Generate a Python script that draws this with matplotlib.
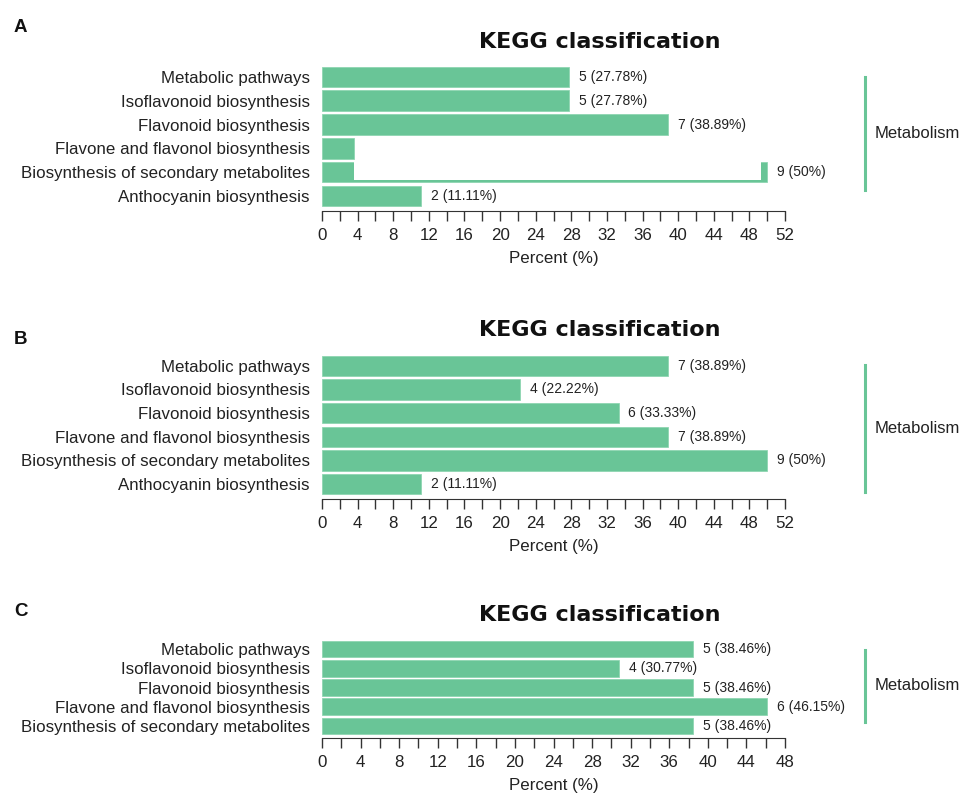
import numpy as np
import matplotlib
matplotlib.use("Agg")
from matplotlib import pyplot as plt
from matplotlib.lines import Line2D

plt.rcParams['font.family'] = ['Liberation Sans', 'DejaVu Sans']

GREEN = "#69c597"
TEXT = "#222222"
W, H = 963, 797

# panel A
cats_a = ["Metabolic pathways", "Isoflavonoid biosynthesis", "Flavonoid biosynthesis",
          "Flavone and flavonol biosynthesis", "Biosynthesis of secondary metabolites",
          "Anthocyanin biosynthesis"]
pct_a = [27.78, 27.78, 38.89, 3.6, 50, 11.11]
lbl_a = ["5 (27.78%)", "5 (27.78%)", "7 (38.89%)", "", "9 (50%)", "2 (11.11%)"]

# panel B
cats_b = cats_a
pct_b = [38.89, 22.22, 33.33, 38.89, 50, 11.11]
lbl_b = ["7 (38.89%)", "4 (22.22%)", "6 (33.33%)", "7 (38.89%)", "9 (50%)", "2 (11.11%)"]

# panel C
cats_c = cats_a[:5]
pct_c = [38.46, 30.77, 38.46, 46.15, 38.46]
lbl_c = ["5 (38.46%)", "4 (30.77%)", "5 (38.46%)", "6 (46.15%)", "5 (38.46%)"]

fig = plt.figure(figsize=(W / 100, H / 100), dpi=100)


def px_axes(left, top, right, bottom):
    return fig.add_axes([left / W, 1 - bottom / H, (right - left) / W, (bottom - top) / H])


def draw_panel(letter, cats, pct, labels, xmax, top, bottom, title_y, line_top, line_bot, letter_y,
               glitch=None):
    n = len(cats)
    ax = px_axes(322, top, 785, bottom)
    y = np.arange(n)[::-1]
    ax.barh(y, pct, height=0.86, color=GREEN, edgecolor="#8fd6b2", linewidth=0.6)
    if glitch is not None:
        # rendering artefact on one bar: only outline strips remain
        gi, gl, gr = glitch
        ax.barh(y[gi] + 0.06, gr - gl, left=gl, height=0.76, color="white", linewidth=0)
    for yi, p, s in zip(y, pct, labels):
        if s:
            ax.annotate(s, (p, yi), xytext=(7, 0), textcoords="offset points",
                        va="center", ha="left", fontsize=10, color=TEXT)
    ax.set_ylim(-0.63, n - 0.5)
    ax.set_xlim(0, xmax)
    ax.set_yticks(y)
    ax.set_yticklabels(cats, fontsize=12.2, color=TEXT)
    ax.tick_params(axis="y", length=0, pad=9)
    ticks = np.arange(0, xmax + 1, 2)
    ax.set_xticks(ticks)
    ax.set_xticklabels([str(t) if t % 4 == 0 else "" for t in ticks], fontsize=12.2, color=TEXT)
    ax.tick_params(axis="x", length=7, width=1, color="#333333", pad=5)
    for s in ["top", "right", "left"]:
        ax.spines[s].set_visible(False)
    ax.spines["bottom"].set_color("#333333")
    ax.set_xlabel("Percent (%)", fontsize=12.2, color=TEXT, labelpad=6)
    fig.text(600 / W, 1 - title_y / H, "KEGG classification", ha="center", va="center",
             fontsize=16, fontweight="bold", color="#111111", family="DejaVu Sans")
    fig.text(14 / W, 1 - letter_y / H, letter, ha="left", va="center",
             fontsize=13.5, fontweight="bold", color="#111111")
    fig.add_artist(Line2D([865 / W, 865 / W], [1 - line_top / H, 1 - line_bot / H],
                          color=GREEN, linewidth=2.2))
    fig.text(875 / W, 1 - (line_top + line_bot) / 2 / H, "Metabolism", ha="left", va="center",
             fontsize=12, color=TEXT)
    return ax


draw_panel("A", cats_a, pct_a, lbl_a, 52, 65, 211, 42, 77, 190, 28, glitch=(4, 3.6, 49.3))
draw_panel("B", cats_b, pct_b, lbl_b, 52, 354, 499, 330, 365, 492, 340)
draw_panel("C", cats_c, pct_c, lbl_c, 48, 639.5, 738, 615, 650, 722, 612)

fig.savefig("out.png", dpi=100)
